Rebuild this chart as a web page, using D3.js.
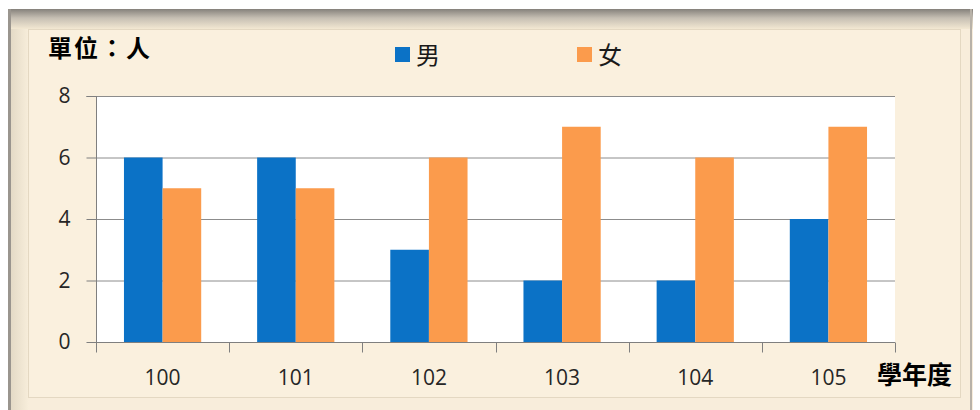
<!DOCTYPE html>
<html><head><meta charset="utf-8">
<script src="https://cdn.jsdelivr.net/npm/d3@7"></script>
<style>html,body{margin:0;padding:0;background:#fff;}svg{display:block;}</style>
</head><body>
<script>
const categories = ["100","101","102","103","104","105"];
const seriesNames = ["男","女"];
const maleValues = [6,6,3,2,2,4];
const femaleValues = [5,5,6,7,6,7];
const yTicks = [0,2,4,6,8];
const colors = ["#0b72c6","#fb9b4c"];

const W=980,H=410;
const svg=d3.select("body").append("svg").attr("width",W).attr("height",H);
const defs=svg.append("defs");
const tg=defs.append("linearGradient").attr("id","topband").attr("x1",0).attr("y1",0).attr("x2",0).attr("y2",1);
tg.append("stop").attr("offset","0%").attr("stop-color","#85817b");
tg.append("stop").attr("offset","45%").attr("stop-color","#c6bfb3");
tg.append("stop").attr("offset","100%").attr("stop-color","#f3e8d2");
const lg=defs.append("linearGradient").attr("id","leftband").attr("x1",0).attr("y1",0).attr("x2",1).attr("y2",0);
lg.append("stop").attr("offset","0%").attr("stop-color","#e2d8c4");
lg.append("stop").attr("offset","100%").attr("stop-color","#f8eedb");

// frame
svg.append("rect").attr("x",0).attr("y",0).attr("width",W).attr("height",H).attr("fill","#ffffff");
svg.append("rect").attr("x",9).attr("y",9).attr("width",964).attr("height",401).attr("fill","#f8eddb");
svg.append("rect").attr("x",9).attr("y",9).attr("width",20).attr("height",401).attr("fill","url(#leftband)");
svg.append("rect").attr("x",9).attr("y",9).attr("width",964).attr("height",20).attr("fill","url(#topband)");
svg.append("rect").attr("x",8).attr("y",9).attr("width",3).attr("height",401).attr("fill","#9a958e");
svg.append("rect").attr("x",970).attr("y",9).attr("width",2).attr("height",401).attr("fill","#b8b2a8");
svg.append("rect").attr("x",28.5).attr("y",29.5).attr("width",932).attr("height",368)
  .attr("fill","#faf0de").attr("stroke","#e4d8c2").attr("stroke-width",1);

const m={l:96,r:895,t:96,b:342};
const x=d3.scaleBand().domain(categories).range([m.l,m.r]).paddingInner(0.42).paddingOuter(0.21);
const xs=d3.scaleBand().domain(seriesNames).range([0,x.bandwidth()]);
const y=d3.scaleLinear().domain([0,8]).range([m.b,m.t]);

svg.append("rect").attr("x",m.l).attr("y",m.t).attr("width",m.r-m.l).attr("height",m.b-m.t).attr("fill","#ffffff");

// gridlines
svg.append("g").selectAll("line").data(yTicks.filter(d=>d>0)).join("line")
  .attr("x1",m.l).attr("x2",m.r).attr("y1",d=>y(d)+0.5).attr("y2",d=>y(d)+0.5)
  .attr("stroke","#8c8c8c").attr("stroke-width",1);

const data=categories.map((c,i)=>({c,vals:[maleValues[i],femaleValues[i]]}));
const g=svg.append("g");
data.forEach(d=>{
  d.vals.forEach((v,j)=>{
    g.append("rect").attr("x",x(d.c)+xs(seriesNames[j])).attr("y",y(v))
      .attr("width",xs.bandwidth()).attr("height",y(0)-y(v)).attr("fill",colors[j]);
  });
});

const numFont="Open Sans, Liberation Sans, sans-serif";
// y axis
const ya=svg.append("g").attr("transform",`translate(${m.l+0.5},0)`)
  .call(d3.axisLeft(y).tickValues(yTicks).tickSize(10).tickPadding(16));
ya.select(".domain").attr("stroke","#7f7f7f").attr("d",`M-10,${m.t+0.5}H0V${m.b+0.5}`);
ya.selectAll(".tick line").attr("stroke","#7f7f7f");
ya.selectAll(".tick text").attr("font-family",numFont).attr("font-size",21).attr("fill","#262626");

// x axis
const xb=d3.scaleLinear().domain([0,categories.length]).range([m.l,m.r]);
const xa=svg.append("g").attr("transform",`translate(0,${m.b+0.5})`);
xa.append("line").attr("x1",m.l).attr("x2",m.r).attr("stroke","#7f7f7f");
xa.selectAll("line.t").data(d3.range(categories.length+1)).join("line").attr("class","t")
  .attr("x1",d=>Math.round(xb(d))+0.5).attr("x2",d=>Math.round(xb(d))+0.5).attr("y1",0).attr("y2",10).attr("stroke","#7f7f7f");
xa.selectAll("text").data(categories).join("text")
  .attr("x",d=>x(d)+x.bandwidth()/2).attr("y",42).attr("text-anchor","middle")
  .attr("font-family",numFont).attr("font-size",21).attr("fill","#262626").text(d=>d);

// titles
svg.append("text").attr("x",48).attr("y",57).attr("font-family","Noto Sans CJK TC").attr("font-weight","bold")
  .attr("font-size",24).attr("letter-spacing",2).attr("fill","#000").text("單位：人");
svg.append("text").attr("x",877).attr("y",384).attr("font-family","Noto Sans CJK TC").attr("font-weight","bold")
  .attr("font-size",25).attr("fill","#000").text("學年度");

// legend
const legX=[395,577];
seriesNames.forEach((s,i)=>{
  svg.append("rect").attr("x",legX[i]).attr("y",47).attr("width",15).attr("height",15).attr("fill",colors[i]);
  svg.append("text").attr("x",legX[i]+21).attr("y",64).attr("font-family","Noto Sans CJK TC")
    .attr("font-size",24).attr("fill","#1a1a1a").text(s);
});
</script>
</body></html>
